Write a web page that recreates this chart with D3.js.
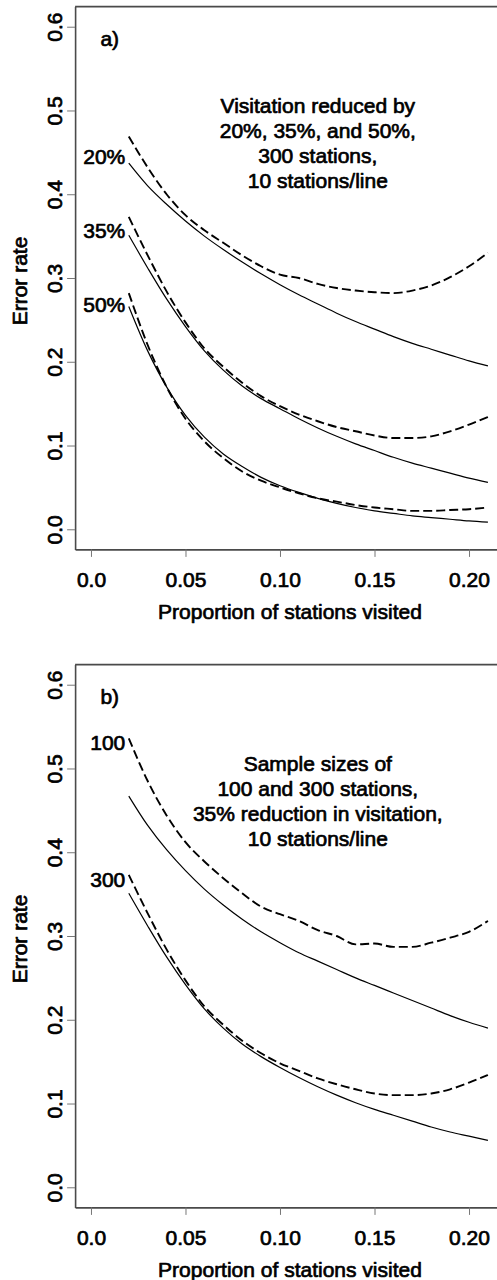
<!DOCTYPE html>
<html><head><meta charset="utf-8">
<script src="https://cdn.jsdelivr.net/npm/d3@7"></script>
<style>
html,body{margin:0;padding:0;background:#fff;}
svg text{font-family:"Liberation Sans",Arial,Helvetica,sans-serif;fill:#000;}
</style></head>
<body>
<svg id="chart" width="497" height="1280"></svg>
<script>
// ---- data ----
const propVisited = [0.02,0.03,0.04,0.05,0.06,0.07,0.08,0.09,0.10,0.11,0.12,0.13,0.14,0.15,0.16,0.17,0.18,0.19,0.20,0.21];

const a20Solid  = [0.437,0.410,0.388,0.368,0.350,0.334,0.319,0.305,0.292,0.280,0.269,0.258,0.248,0.239,0.230,0.222,0.215,0.208,0.201,0.195];
const a20Dashed = [0.469,0.432,0.400,0.375,0.357,0.342,0.327,0.314,0.304,0.300,0.293,0.288,0.285,0.283,0.282,0.285,0.291,0.301,0.314,0.330];
const a35Solid  = [0.351,0.312,0.275,0.242,0.213,0.190,0.171,0.156,0.144,0.132,0.121,0.111,0.102,0.094,0.086,0.079,0.073,0.067,0.061,0.056];
const a35Dashed = [0.373,0.327,0.284,0.247,0.216,0.194,0.175,0.159,0.147,0.137,0.129,0.122,0.117,0.112,0.109,0.109,0.111,0.117,0.125,0.134];
const a50Solid  = [0.266,0.213,0.170,0.136,0.110,0.090,0.075,0.062,0.052,0.044,0.037,0.031,0.026,0.022,0.019,0.016,0.014,0.012,0.010,0.0085];
const a50Dashed = [0.282,0.220,0.170,0.132,0.105,0.085,0.069,0.058,0.050,0.043,0.037,0.033,0.029,0.026,0.024,0.022,0.022,0.023,0.024,0.026];

const b100Solid  = [0.467,0.432,0.403,0.378,0.356,0.337,0.320,0.305,0.292,0.280,0.270,0.260,0.250,0.241,0.232,0.223,0.214,0.205,0.197,0.190];
const b100Dashed = [0.536,0.485,0.444,0.412,0.389,0.369,0.351,0.335,0.326,0.318,0.307,0.300,0.290,0.291,0.287,0.287,0.292,0.298,0.305,0.318];
const b300Solid  = [0.351,0.312,0.275,0.242,0.213,0.190,0.171,0.156,0.143,0.131,0.120,0.110,0.101,0.093,0.086,0.079,0.072,0.066,0.061,0.056];
const b300Dashed = [0.373,0.327,0.284,0.247,0.216,0.194,0.175,0.160,0.148,0.139,0.130,0.123,0.117,0.112,0.110,0.110,0.112,0.117,0.125,0.134];

const xTicks = [0, 0.05, 0.10, 0.15, 0.20];
const xTickLabels = ["0.0", "0.05", "0.10", "0.15", "0.20"];
const yTicks = [0, 0.1, 0.2, 0.3, 0.4, 0.5, 0.6];
const yTickLabels = ["0.0", "0.1", "0.2", "0.3", "0.4", "0.5", "0.6"];

const xTitle = "Proportion of stations visited";
const yTitle = "Error rate";

const panelTags = ["a)", "b)"];
const notesA = ["Visitation reduced by", "20%, 35%, and 50%,", "300 stations,", "10 stations/line"];
const notesB = ["Sample sizes of", "100 and 300 stations,", "35% reduction in visitation,", "10 stations/line"];

const curveLabelsA = ["20%", "35%", "50%"];
const curveLabelYA = [0.445, 0.357, 0.268];
const curveLabelsB = ["100", "300"];
const curveLabelYB = [0.531, 0.367];

const panels = [
  { tag: panelTags[0], notes: notesA, labels: curveLabelsA, labelY: curveLabelYA,
    series: [[a20Solid, false], [a20Dashed, true], [a35Solid, false], [a35Dashed, true], [a50Solid, false], [a50Dashed, true]] },
  { tag: panelTags[1], notes: notesB, labels: curveLabelsB, labelY: curveLabelYB,
    series: [[b100Solid, false], [b100Dashed, true], [b300Solid, false], [b300Dashed, true]] }
];

// ---- layout ----
const svg = d3.select("#chart");
const panelOffset = 658;
const plotTop = 6.6, plotBottom = 549.4;
const plotLeft = 75.1, plotRight = 503.8;
const FS = 21;
const TSW = 0.7; // text stroke for heavier look

const x = d3.scaleLinear().domain([-0.0084, 0.2184]).range([plotLeft, plotRight]);

function styleText(sel) {
  return sel.style("font-size", FS + "px").attr("fill", "#000")
    .attr("stroke", "#000").attr("stroke-width", TSW).attr("stroke-linejoin", "round");
}

panels.forEach((p, k) => {
  const off = k * panelOffset;
  const y = d3.scaleLinear().domain([-0.024, 0.624]).range([plotBottom + off, plotTop + off]);
  const g = svg.append("g");

  // top frame line
  g.append("line").attr("x1", x.range()[0]).attr("x2", x.range()[1])
    .attr("y1", y.range()[1]).attr("y2", y.range()[1])
    .attr("stroke", "#4a4a4a").attr("stroke-width", 1.6);

  // y axis
  const ya = g.append("g").attr("transform", `translate(${plotLeft},0)`)
    .call(d3.axisLeft(y).tickValues(yTicks).tickSize(8).tickSizeOuter(0)
      .tickFormat((d, i) => yTickLabels[i]));
  ya.select(".domain").attr("stroke", "#4a4a4a").attr("stroke-width", 1.6);
  ya.selectAll(".tick line").attr("stroke", "#777").attr("stroke-width", 1);
  styleText(ya.selectAll(".tick text")
    .attr("transform", "rotate(-90)").attr("x", 0).attr("y", -13.6).attr("dy", 0)
    .attr("text-anchor", "middle"));

  // x axis
  const xa = g.append("g").attr("transform", `translate(0,${plotBottom + off})`)
    .call(d3.axisBottom(x).tickValues(xTicks).tickSize(7.5).tickSizeOuter(0)
      .tickFormat((d, i) => xTickLabels[i]));
  xa.select(".domain").attr("stroke", "#4a4a4a").attr("stroke-width", 1.6);
  xa.selectAll(".tick line").attr("stroke", "#777").attr("stroke-width", 1);
  styleText(xa.selectAll(".tick text").attr("y", 37.3).attr("dy", 0));

  // axis titles
  styleText(g.append("text").attr("x", 290).attr("y", plotBottom + off + 69.5)
    .attr("text-anchor", "middle"))
    .text(xTitle);
  styleText(g.append("text")
    .attr("transform", `translate(26.5,${(plotTop + plotBottom) / 2 + off + 3}) rotate(-90)`)
    .attr("text-anchor", "middle"))
    .text(yTitle);

  // curves
  const lineSolid = d3.line().x((d, i) => x(propVisited[i])).y(d => y(d)).curve(d3.curveCatmullRom.alpha(0.5));
  const lineDash = d3.line().x((d, i) => x(propVisited[i])).y(d => y(d)).curve(d3.curveMonotoneX);
  p.series.forEach(([vals, dashed]) => {
    g.append("path").datum(vals).attr("d", dashed ? lineDash : lineSolid)
      .attr("fill", "none").attr("stroke", "#000")
      .attr("stroke-width", dashed ? 1.9 : 1.2)
      .attr("stroke-dasharray", dashed ? "9,4" : null)
      .attr("stroke-linecap", "butt");
  });

  // curve labels
  p.labels.forEach((t, i) => {
    styleText(g.append("text").attr("x", x(propVisited[0]) - 3.5).attr("y", y(p.labelY[i]))
      .attr("dy", "0.35em").attr("text-anchor", "end")).text(t);
  });

  // panel tag
  styleText(g.append("text").attr("x", x(0.005)).attr("y", y(0.577))).text(p.tag);

  // annotation block
  p.notes.forEach((t, i) => {
    styleText(g.append("text").attr("x", x(0.12)).attr("y", y(0.47) - 22.3 + i * 25)
      .attr("text-anchor", "middle")).text(t);
  });
});
</script>
</body></html>
